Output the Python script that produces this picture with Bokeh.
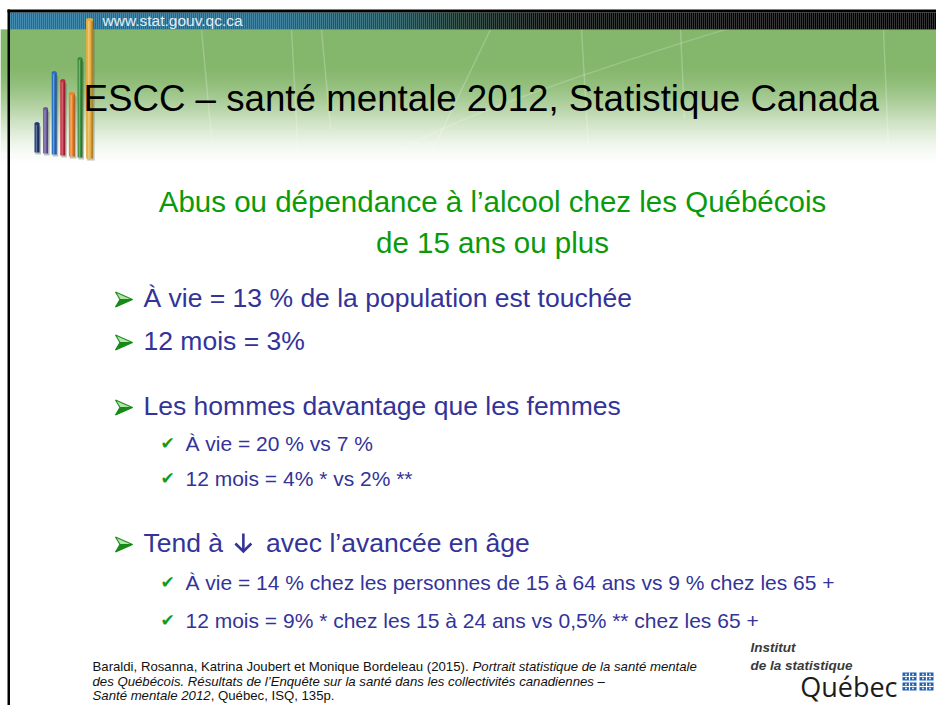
import numpy as np
from bokeh.plotting import figure
from bokeh.models import Range1d
from bokeh.core.properties import value
from bokeh.embed import file_html
from bokeh.resources import INLINE

# ---------------- content ----------------
url_text = "www.stat.gouv.qc.ca"
title_text = "ESCC – santé mentale 2012, Statistique Canada"
subtitle_lines = ["Abus ou dépendance à l’alcool chez les Québécois",
                  "de 15 ans ou plus"]
bullet_levels = [1, 1, 1, 2, 2, 1, 2, 2]
bullet_texts = [
    "À vie = 13 % de la population est touchée",
    "12 mois = 3%",
    "Les hommes davantage que les femmes",
    "À vie = 20 % vs 7 %",
    "12 mois = 4% * vs 2% **",
    "Tend à \u2193 avec l’avancée en âge",
    "À vie = 14 % chez les personnes de 15 à 64 ans vs 9 % chez les 65 +",
    "12 mois = 9% * chez les 15 à 24 ans vs 0,5% ** chez les 65 +",
]
footer_runs = [
    [("Baraldi, Rosanna, Katrina Joubert et Monique Bordeleau (2015). ", "normal"),
     ("Portrait statistique de la santé mentale", "italic")],
    [("des Québécois. Résultats de l’Enquête sur la santé dans les collectivités canadiennes –", "italic")],
    [("Santé mentale 2012", "italic"), (", Québec, ISQ, 135p.", "normal")],
]
logo_lines = ["Institut", "de la statistique"]
logo_word = "Québec"
logo_bar_heights = [29, 45, 82, 75, 63, 99, 139]
logo_bar_colors = ["#203c78", "#6a5a9c", "#2b6fc0", "#c9283e", "#e9842c", "#3d8e3d", "#e6ad3c"]

# ---------------- layout ----------------
W, H = 936, 705
FONT = value("Liberation Sans")
BLUE_TXT = "#333399"
GREEN_TXT = "#0a9a0a"
KB = 0.35   # compensation of the renderer's baseline offset (fraction of font size)

ARIAL = {" ": 278, ",": 278, ".": 278, "(": 333, ")": 333, "-": 333, "–": 556,
         "’": 222, "'": 191, "%": 889, "*": 389, "+": 584, "=": 584}
for ch in "0123456789":
    ARIAL[ch] = 556
for ch, w in zip("ABCDEFGHIJKLMNOPQRSTUVWXYZ",
                 [667, 667, 722, 722, 667, 611, 778, 722, 278, 500, 667, 556, 833,
                  722, 778, 667, 778, 722, 667, 611, 722, 667, 944, 667, 667, 611]):
    ARIAL[ch] = w
for ch, w in zip("abcdefghijklmnopqrstuvwxyz",
                 [556, 556, 500, 556, 556, 278, 556, 556, 222, 222, 500, 222, 833,
                  556, 556, 556, 556, 333, 500, 278, 556, 500, 722, 500, 500, 500]):
    ARIAL[ch] = w
for ch in "éèêàâ":
    ARIAL[ch] = 556
ARIAL["É"] = 667
ARIAL["À"] = 667


def text_width(s, size):
    return sum(ARIAL.get(c, 556) for c in s) * size / 1000.0


def ty(baseline, size):
    return baseline - KB * size


def hexcol(rgb):
    r, g, b = [int(round(max(0, min(255, v)))) for v in rgb]
    return "#%02x%02x%02x" % (r, g, b)


p = figure(width=W, height=H, x_range=Range1d(0, W), y_range=Range1d(H, 0),
           output_backend="svg", toolbar_location=None, min_border=0,
           x_axis_type=None, y_axis_type=None, title_location=None)
p.grid.visible = False
p.outline_line_color = None
p.background_fill_color = "white"
p.border_fill_color = "white"

# ---- green header gradient ----
ys = np.arange(29, 172, 1.0)
t = np.clip((ys - 60) / (168 - 60), 0, 1)
t = t * t * (3 - 2 * t)
g0 = np.array([92, 158, 58])
wh = np.array([255, 255, 255])
gcols = [hexcol(g0 * (1 - tt) + wh * tt) for tt in t]
p.quad(left=0, right=W, top=ys, bottom=ys + 1.05, fill_color=gcols, line_color=None)

# faint decorative lines in the header
fl_x = [[201, 212], [291, 298], [321, 330], [490, 428], [581, 588], [680, 684], [883, 888]]
fl_y = [[29, 148], [29, 158], [29, 128], [29, 158], [29, 148], [29, 118], [29, 148]]
p.multi_line(xs=fl_x, ys=fl_y, line_color="white", line_alpha=0.22, line_width=1.5)
cx = np.linspace(388, 728, 40)
p.line(cx, 158 - 130 * ((cx - 388) / 340) ** 0.8, line_color="white", line_alpha=0.18, line_width=1.5)

# ---- top band: blue -> black ----
bx = np.arange(8, W, 2.0)
stops_x = [0, 270, 390, 460, 550, W]
stops_c = [(23, 112, 158), (19, 104, 140), (14, 80, 90), (10, 45, 35), (4, 10, 6), (0, 0, 0)]
bc = [hexcol([np.interp(x, stops_x, [c[k] for c in stops_c]) for k in range(3)]) for x in bx]
p.quad(left=bx, right=bx + 2.1, top=12, bottom=29, fill_color=bc, line_color=None)
p.quad(left=7, right=W, top=9, bottom=12, fill_color="black", line_color=None)
p.quad(left=7, right=9.5, top=9, bottom=H, fill_color="black", line_color=None)

p.text(x=[102], y=[ty(25, 15.5)], text=[url_text], text_font=FONT, text_font_size="15.5px",
       text_color="#e6eef2", text_baseline="alphabetic")

# ---- bar logo ----
n = len(logo_bar_heights)
lefts = np.array([34 + 8.6 * i for i in range(n)])
widths = np.array([5, 5, 5, 5, 6, 5, 7.0])
bottoms = np.array([152 + i for i in range(n)], dtype=float)
tops = bottoms - np.array(logo_bar_heights)
p.quad(left=lefts + 1, right=lefts + widths + 1.5, top=tops + 3, bottom=bottoms + 2,
       fill_color="#555555", fill_alpha=0.35, line_color=None)
p.quad(left=lefts, right=lefts + widths, top=tops, bottom=bottoms,
       fill_color=logo_bar_colors, line_color=None)
p.quad(left=lefts + widths * 0.25, right=lefts + widths * 0.5, top=tops + 1, bottom=bottoms,
       fill_color="white", fill_alpha=0.3, line_color=None)
p.quad(left=lefts + widths * 0.75, right=lefts + widths, top=tops, bottom=bottoms,
       fill_color="black", fill_alpha=0.25, line_color=None)
p.ellipse(x=lefts + widths / 2, y=tops, width=widths, height=3,
          fill_color=logo_bar_colors, line_color=None)

# ---- title ----
p.text(x=[83], y=[ty(111, 36.7)], text=[title_text], text_font=FONT, text_font_size="36.7px",
       text_color="black", text_baseline="alphabetic")

# ---- subtitle ----
p.text(x=[492, 492], y=[ty(211, 29.5), ty(252, 29.5)], text=subtitle_lines, text_font=FONT,
       text_font_size="29.5px", text_color=GREEN_TXT, text_align="center",
       text_baseline="alphabetic")

# ---- bullets ----
MAIN = 26.5
SUB = 21
baselines = [307, 350, 415, 450, 485, 552, 589, 627]
for lvl, txt, b in zip(bullet_levels, bullet_texts, baselines):
    if lvl == 1:
        ax0 = 115
        up_x = [ax0, ax0 + 17, ax0 + 4.5]
        up_y = [b - 15.5, b - 8, b - 8]
        lo_x = [ax0 + 4.5, ax0 + 17, ax0]
        lo_y = [b - 8, b - 8, b - 0.5]
        p.patch(up_x, up_y, fill_color="#b4e2ac", line_color="#1e901e", line_width=1.2)
        p.patch(lo_x, lo_y, fill_color="#168a16", line_color="#168a16", line_width=1.2)
        if "\u2193" in txt:
            pre, post = txt.split("\u2193")
            pre = pre.rstrip()
            post = post.strip()
            x0 = 143
            p.text(x=[x0], y=[ty(b, MAIN)], text=[pre], text_font=FONT,
                   text_font_size="%.1fpx" % MAIN, text_color=BLUE_TXT,
                   text_baseline="alphabetic")
            axl = x0 + text_width(pre + " ", MAIN) + 2
            axc = axl + 8
            p.segment(x0=[axc], y0=[b - 19], x1=[axc], y1=[b - 1], line_color=BLUE_TXT,
                      line_width=2.6)
            p.line(x=[axl, axc, axl + 16], y=[b - 9, b - 1, b - 9], line_color=BLUE_TXT,
                   line_width=2.6, line_join="miter")
            p.text(x=[axl + 16 + text_width("  ", MAIN)], y=[ty(b, MAIN)], text=[post],
                   text_font=FONT, text_font_size="%.1fpx" % MAIN, text_color=BLUE_TXT,
                   text_baseline="alphabetic")
        else:
            p.text(x=[143], y=[ty(b, MAIN)], text=[txt], text_font=FONT,
                   text_font_size="%.1fpx" % MAIN, text_color=BLUE_TXT,
                   text_baseline="alphabetic")
    else:
        p.text(x=[160], y=[ty(b, 21)], text=["\u2714"], text_font=value("DejaVu Sans"),
               text_font_size="17px", text_color="#139c13",
               text_baseline="alphabetic")
        p.text(x=[185], y=[ty(b, SUB)], text=[txt], text_font=FONT, text_font_size="%dpx" % SUB,
               text_color=BLUE_TXT, text_baseline="alphabetic")

# ---- footer citation ----
fsize = 13.2
for runs, b in zip(footer_runs, [671, 685.5, 700]):
    x = 92.0
    for s, style in runs:
        p.text(x=[x], y=[ty(b, fsize)], text=[s], text_font=FONT,
               text_font_size="%.1fpx" % fsize, text_font_style=style,
               text_color="#111111", text_baseline="alphabetic")
        x += text_width(s, fsize)

# ---- ISQ logo ----
p.text(x=[750, 750], y=[ty(652, 13.5), ty(670, 13.5)], text=logo_lines, text_font=FONT,
       text_font_size="13.5px", text_font_style="bold italic", text_color="#3a3a3a",
       text_baseline="alphabetic")
p.text(x=[897], y=[ty(695, 27)], text=[logo_word], text_font=value("Open Sans"),
       text_font_size="27px", text_color="#1c1c1c", text_align="right",
       text_baseline="alphabetic")
fl_left = np.array([902, 919, 902, 919], dtype=float)
fl_top = np.array([672, 672, 682, 682], dtype=float)
p.quad(left=fl_left, right=fl_left + 14, top=fl_top, bottom=fl_top + 8,
       fill_color="#1f5fae", line_color=None)
p.segment(x0=fl_left + 7, y0=fl_top, x1=fl_left + 7, y1=fl_top + 8, line_color="white", line_width=1.2)
p.segment(x0=fl_left, y0=fl_top + 4, x1=fl_left + 14, y1=fl_top + 4, line_color="white", line_width=1.2)
p.scatter(x=np.concatenate([fl_left + 3.5, fl_left + 10.5, fl_left + 3.5, fl_left + 10.5]),
          y=np.concatenate([fl_top + 2, fl_top + 2, fl_top + 6, fl_top + 6]),
          size=2.0, marker="circle", fill_color="white", fill_alpha=0.9, line_color=None)

open("out.html", "w").write(file_html(p, INLINE))
